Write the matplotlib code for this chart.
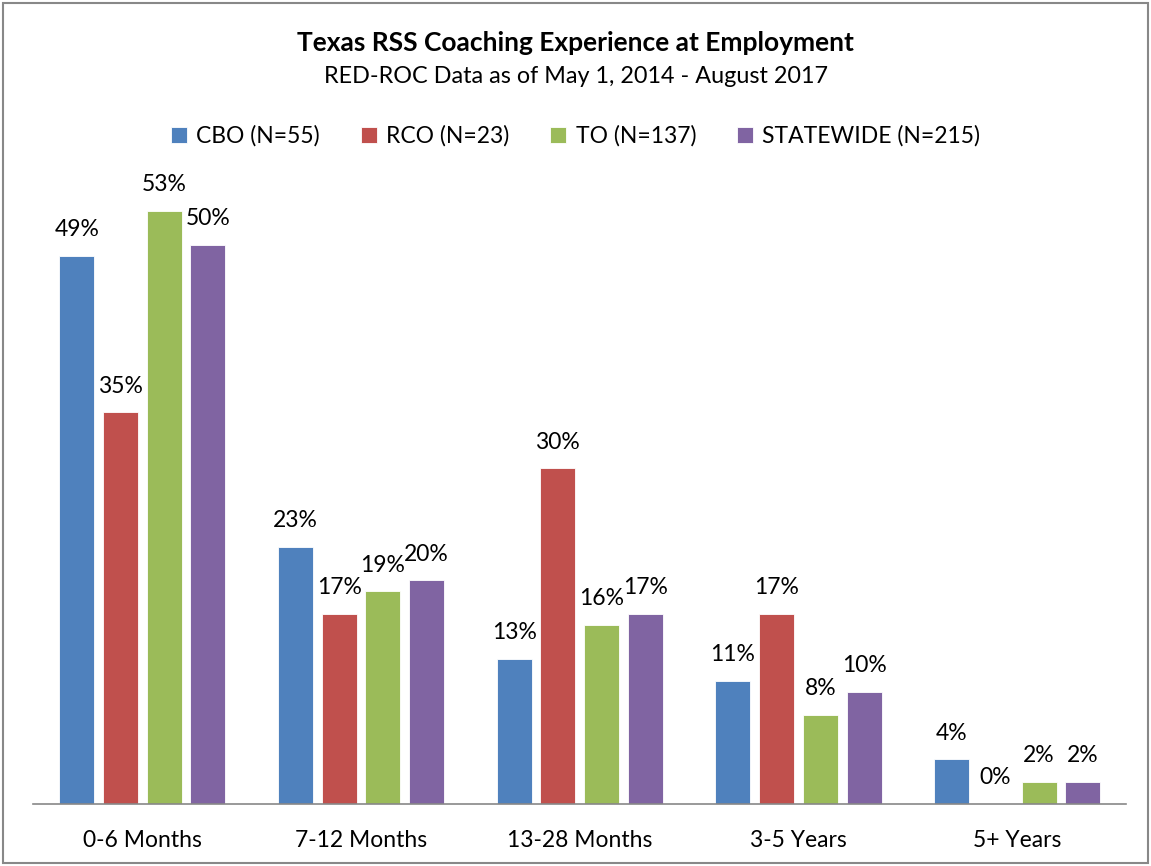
import numpy as np
import matplotlib.pyplot as plt
from matplotlib.patches import Rectangle

plt.rcParams['font.family'] = ['Lato', 'DejaVu Sans']

categories = ['0-6 Months', '7-12 Months', '13-28 Months', '3-5 Years', '5+ Years']
series = ['CBO (N=55)', 'RCO (N=23)', 'TO (N=137)', 'STATEWIDE (N=215)']
cbo = [49, 23, 13, 11, 4]
rco = [35, 17, 30, 17, 0]
to = [53, 19, 16, 8, 2]
statewide = [50, 20, 17, 10, 2]
colors = ['#4F81BD', '#C0504D', '#9BBB59', '#8064A2']

fig = plt.figure(figsize=(11.51, 8.66), dpi=100)
ax = fig.add_axes([0.0287, 0.0716, 0.950, 0.775])

x = np.arange(len(categories))
offsets = [-0.3, -0.1, 0.1, 0.3]
for vals, name, col, off in zip([cbo, rco, to, statewide], series, colors, offsets):
    bars = ax.bar(x + off, vals, width=0.16, color=col, edgecolor='white',
                  linewidth=0.6, label=name)
    for b, v in zip(bars, vals):
        ax.text(b.get_x() + b.get_width() / 2, v + 1.4, f'{v}%',
                ha='center', va='bottom', fontsize=16.5)

ax.set_xlim(-0.5, 4.5)
ax.set_ylim(0, 60)
ax.set_yticks([])
ax.set_xticks(x)
ax.set_xticklabels(categories, fontsize=16.5)
ax.tick_params(axis='x', length=0, pad=19)
for s in ['top', 'right', 'left']:
    ax.spines[s].set_visible(False)
ax.spines['bottom'].set_color('#888888')
ax.spines['bottom'].set_linewidth(1.2)

fig.text(0.5, 0.950, 'Texas RSS Coaching Experience at Employment',
         ha='center', va='center', fontsize=19, fontweight='bold')
fig.text(0.5, 0.912, 'RED-ROC Data as of May 1, 2014 - August 2017',
         ha='center', va='center', fontsize=16.8)
fig.legend(loc='center', bbox_to_anchor=(0.5, 0.843), ncol=4, frameon=False,
           fontsize=16.5, handlelength=0.7, handleheight=0.7, handletextpad=0.4,
           columnspacing=1.8)

fig.patches.append(Rectangle((0.003, 0.003), 0.994, 0.994, transform=fig.transFigure,
                             fill=False, edgecolor='#888888', linewidth=1.5))

fig.savefig('out.png', dpi=100)
